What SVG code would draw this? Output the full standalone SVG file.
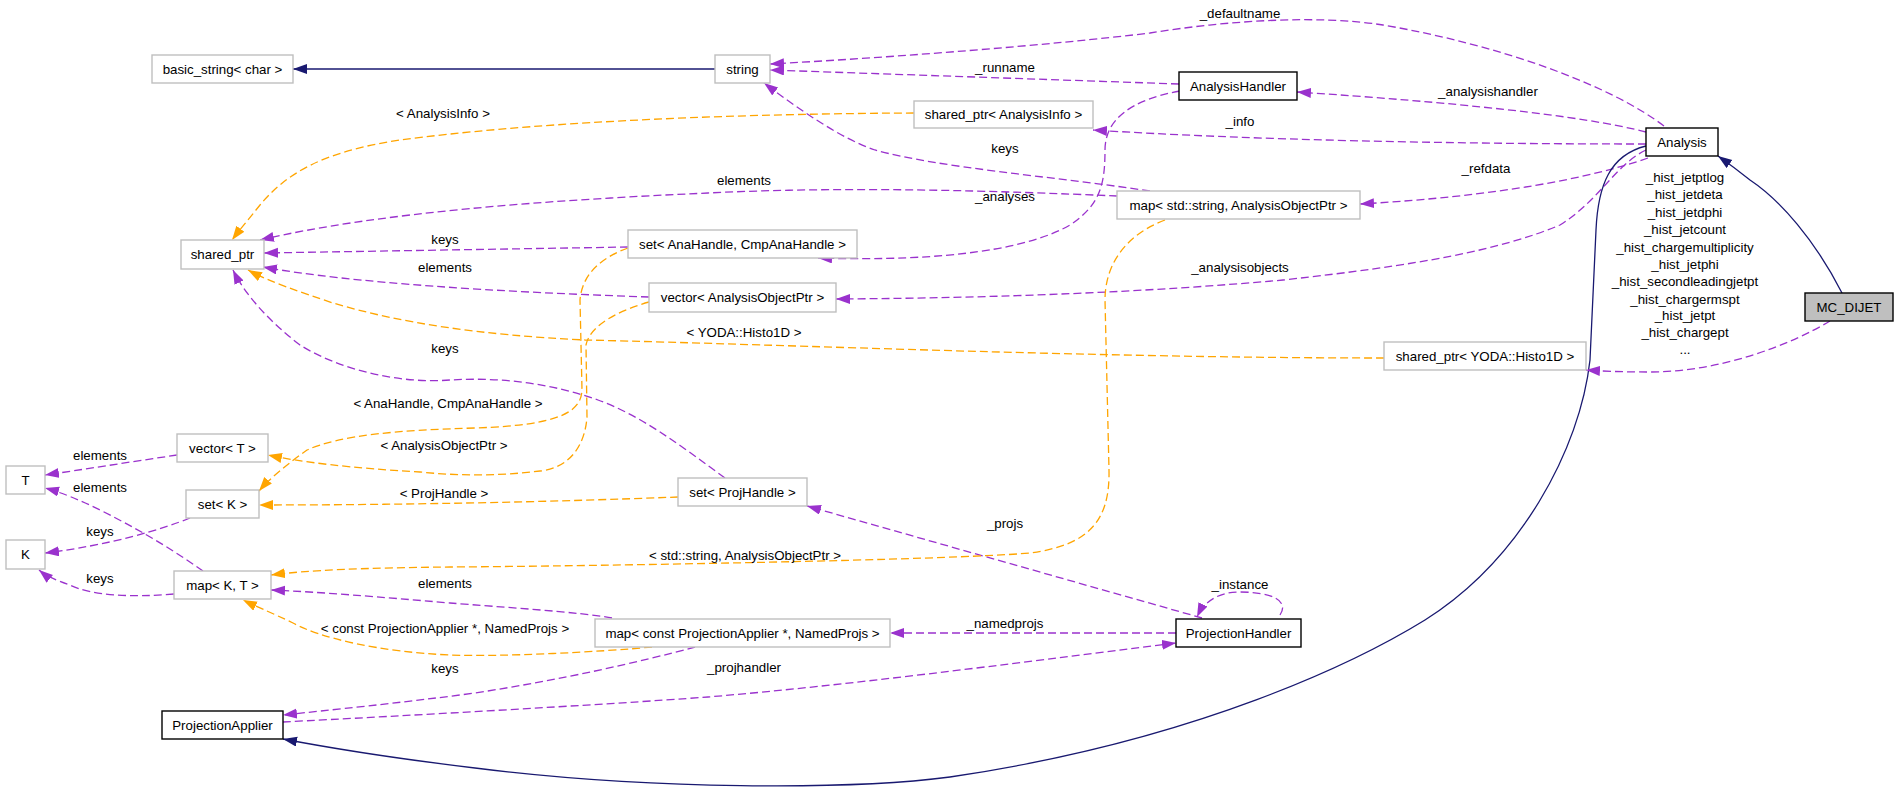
<svg xmlns="http://www.w3.org/2000/svg" width="1899" height="792" viewBox="0 0 1899 792">
<style>
text{font-family:"Liberation Sans",Arial,sans-serif;font-size:13.3px;fill:#000;text-anchor:middle}
.n{fill:#fff;stroke:#bfbfbf;stroke-width:1.4}
.d{fill:#fff;stroke:#000;stroke-width:1.4}
.g{fill:#bfbfbf;stroke:#000;stroke-width:1.4}
.u{fill:none;stroke:#9a32cd;stroke-width:1.3;stroke-dasharray:8,4}
.t{fill:none;stroke:#ffa500;stroke-width:1.3;stroke-dasharray:8,4}
.i{fill:none;stroke:#191970;stroke-width:1.3}
</style>
<defs>
<marker id="ap" markerWidth="15" markerHeight="11" refX="14" refY="5" orient="auto" markerUnits="userSpaceOnUse"><path d="M0,0 L14,5 L0,10 z" fill="#9a32cd"/></marker>
<marker id="ao" markerWidth="15" markerHeight="11" refX="14" refY="5" orient="auto" markerUnits="userSpaceOnUse"><path d="M0,0 L14,5 L0,10 z" fill="#ffa500"/></marker>
<marker id="an" markerWidth="15" markerHeight="11" refX="14" refY="5" orient="auto" markerUnits="userSpaceOnUse"><path d="M0,0 L14,5 L0,10 z" fill="#191970"/></marker>
</defs>
<rect width="1899" height="792" fill="#fff"/>
<g id="connectors">
<path class="i" marker-end="url(#an)" d="M715,69 L293,69"/>
<path class="u" marker-end="url(#ap)" d="M1664,126 C1610,85 1500,45 1383,25 C1320,15 1230,20 1150,33 C1050,45 900,57 770,64"/>
<text x="1240" y="18">_defaultname</text>
<path class="u" marker-end="url(#ap)" d="M1179,84 L770,70"/>
<text x="1005" y="72">_runname</text>
<path class="u" marker-end="url(#ap)" d="M1180,91 C1130,100 1105,120 1105,150 C1105,185 1100,205 1070,225 C1030,248 950,262 818,258"/>
<text x="1005" y="201">_analyses</text>
<path class="u" marker-end="url(#ap)" d="M1646,132 C1580,115 1450,102 1297,92"/>
<text x="1488" y="96">_analysishandler</text>
<path class="u" marker-end="url(#ap)" d="M1646,144 C1450,144 1250,140 1093,130"/>
<text x="1240" y="126">_info</text>
<path class="u" marker-end="url(#ap)" d="M1648,158 C1590,178 1500,196 1360,204"/>
<text x="1486" y="173">_refdata</text>
<path class="u" marker-end="url(#ap)" d="M1646,150 C1615,165 1600,200 1560,225 C1500,250 1420,265 1283,280 C1150,292 1000,298 836,299"/>
<text x="1240" y="272">_analysisobjects</text>
<path class="u" marker-end="url(#ap)" d="M1150,191 C1050,176 940,168 875,150 C840,138 800,110 764,83"/>
<text x="1005" y="153">keys</text>
<path class="t" marker-end="url(#ao)" d="M914,113 C700,114 520,124 400,140 C320,152 285,175 260,205 C248,220 238,232 232,240"/>
<text x="443" y="118">&lt; AnalysisInfo &gt;</text>
<path class="u" marker-end="url(#ap)" d="M1117,196 C1000,191 850,186 708,193 C550,200 380,212 260,240"/>
<text x="744" y="185">elements</text>
<path class="u" marker-end="url(#ap)" d="M628,247 L264,253"/>
<text x="445" y="244">keys</text>
<path class="u" marker-end="url(#ap)" d="M649,297 C500,292 350,283 263,267"/>
<text x="445" y="272">elements</text>
<path class="t" marker-end="url(#ao)" d="M1384,358 C1100,358 800,345 585,340 C480,335 400,323 333,303 C300,292 270,282 248,270"/>
<text x="744" y="337">&lt; YODA::Histo1D &gt;</text>
<path class="u" marker-end="url(#ap)" d="M725,478 C680,445 640,415 598,400 C550,383 500,377 450,380 C400,384 340,370 300,345 C270,322 245,295 233,270"/>
<text x="445" y="353">keys</text>
<path class="t" marker-end="url(#ao)" d="M628,248 C600,258 582,275 580,300 L582,390 C581,410 565,425 475,428 C400,430 340,435 307,450 C290,462 270,478 259,491"/>
<text x="448" y="408">&lt; AnaHandle, CmpAnaHandle &gt;</text>
<path class="t" marker-end="url(#ao)" d="M649,302 C620,310 590,325 586,345 L587,417 C585,445 570,468 540,471 C500,476 460,476 420,472 C350,468 300,462 268,455"/>
<text x="444" y="450">&lt; AnalysisObjectPtr &gt;</text>
<path class="t" marker-end="url(#ao)" d="M678,497 C550,502 400,505 259,505"/>
<text x="444" y="498">&lt; ProjHandle &gt;</text>
<path class="u" marker-end="url(#ap)" d="M1202,618 L807,506"/>
<text x="1005" y="528">_projs</text>
<path class="t" marker-end="url(#ao)" d="M1165,220 C1125,235 1105,265 1105,300 L1109,470 C1110,520 1090,545 1030,553 C950,560 600,566 450,567 C360,568 310,570 271,575"/>
<text x="745" y="560">&lt; std::string, AnalysisObjectPtr &gt;</text>
<path class="u" marker-end="url(#ap)" d="M1280,615 C1290,600 1270,592 1240,592 C1220,592 1205,600 1197,617"/>
<text x="1240" y="589">_instance</text>
<path class="u" marker-end="url(#ap)" d="M1176,633 L890,633"/>
<text x="1005" y="628">_namedprojs</text>
<path class="u" marker-end="url(#ap)" d="M283,722 C400,716 600,705 708,697 C850,685 1000,665 1176,643"/>
<text x="744" y="672">_projhandler</text>
<path class="u" marker-end="url(#ap)" d="M695,647 C640,662 560,680 475,693 C400,703 330,710 283,715"/>
<text x="445" y="673">keys</text>
<path class="t" marker-end="url(#ao)" d="M652,647 C600,652 500,657 450,655 C380,652 320,638 293,623 C270,612 255,606 243,600"/>
<text x="445" y="633">&lt; const ProjectionApplier *, NamedProjs &gt;</text>
<path class="u" marker-end="url(#ap)" d="M612,618 C580,612 500,607 450,603 C380,597 320,592 271,590"/>
<text x="445" y="588">elements</text>
<path class="u" marker-end="url(#ap)" d="M203,571 C180,555 150,535 100,510 C80,500 60,492 45,488"/>
<text x="100" y="492">elements</text>
<path class="u" marker-end="url(#ap)" d="M174,594 C130,598 90,595 70,585 C55,580 45,575 39,570"/>
<text x="100" y="583">keys</text>
<path class="u" marker-end="url(#ap)" d="M190,518 C160,530 110,545 45,553"/>
<text x="100" y="536">keys</text>
<path class="u" marker-end="url(#ap)" d="M177,455 C130,462 80,470 45,475"/>
<text x="100" y="460">elements</text>
<path class="i" marker-end="url(#an)" d="M1646,146 C1610,155 1598,185 1596,230 L1590,360 C1580,450 1520,560 1425,620 C1360,660 1200,740 950,777 C850,790 650,790 475,768 C400,759 330,748 283,739"/>
<path class="i" marker-end="url(#an)" d="M1842,293 C1815,240 1780,200 1750,180 C1740,172 1728,163 1718,156"/>
<path class="u" marker-end="url(#ap)" d="M1830,321 C1790,345 1720,372 1650,372 C1620,372 1600,371 1586,370"/>
<text x="1685" y="182">_hist_jetptlog</text>
<text x="1685" y="199">_hist_jetdeta</text>
<text x="1685" y="217">_hist_jetdphi</text>
<text x="1685" y="234">_hist_jetcount</text>
<text x="1685" y="252">_hist_chargemultiplicity</text>
<text x="1685" y="269">_hist_jetphi</text>
<text x="1685" y="286">_hist_secondleadingjetpt</text>
<text x="1685" y="304">_hist_chargermspt</text>
<text x="1685" y="320">_hist_jetpt</text>
<text x="1685" y="337">_hist_chargept</text>
<text x="1685" y="354">...</text>
</g>
<g id="node-basic_string"><rect class="n" x="152" y="55" width="141" height="28"/><text x="222.5" y="74">basic_string&lt; char &gt;</text></g>
<g id="node-string"><rect class="n" x="715" y="55" width="55" height="28"/><text x="742.5" y="74">string</text></g>
<g id="node-AnalysisHandler"><rect class="d" x="1179" y="72" width="118" height="28"/><text x="1238" y="91">AnalysisHandler</text></g>
<g id="node-shared_ptr_AnalysisInfo"><rect class="n" x="914" y="101" width="179" height="27"/><text x="1003.5" y="119">shared_ptr&lt; AnalysisInfo &gt;</text></g>
<g id="node-Analysis"><rect class="d" x="1646" y="128" width="72" height="28"/><text x="1682" y="147">Analysis</text></g>
<g id="node-MC_DIJET"><rect class="g" x="1805" y="293" width="88" height="28"/><text x="1849" y="312">MC_DIJET</text></g>
<g id="node-shared_ptr"><rect class="n" x="181" y="240" width="83" height="29"/><text x="222.5" y="259">shared_ptr</text></g>
<g id="node-map_string_AOP"><rect class="n" x="1117" y="191" width="243" height="28"/><text x="1238.5" y="210">map&lt; std::string, AnalysisObjectPtr &gt;</text></g>
<g id="node-set_AnaHandle"><rect class="n" x="628" y="230" width="229" height="28"/><text x="742.5" y="249">set&lt; AnaHandle, CmpAnaHandle &gt;</text></g>
<g id="node-vector_AOP"><rect class="n" x="649" y="283" width="187" height="29"/><text x="742.5" y="302">vector&lt; AnalysisObjectPtr &gt;</text></g>
<g id="node-shared_ptr_Histo1D"><rect class="n" x="1384" y="342" width="202" height="28"/><text x="1485" y="361">shared_ptr&lt; YODA::Histo1D &gt;</text></g>
<g id="node-vector_T"><rect class="n" x="177" y="434" width="91" height="28"/><text x="222.5" y="453">vector&lt; T &gt;</text></g>
<g id="node-T"><rect class="n" x="6" y="466" width="39" height="28"/><text x="25.5" y="485">T</text></g>
<g id="node-set_K"><rect class="n" x="186" y="490" width="73" height="28"/><text x="222.5" y="509">set&lt; K &gt;</text></g>
<g id="node-set_ProjHandle"><rect class="n" x="678" y="478" width="129" height="28"/><text x="742.5" y="497">set&lt; ProjHandle &gt;</text></g>
<g id="node-K"><rect class="n" x="6" y="540" width="39" height="29"/><text x="25.5" y="559">K</text></g>
<g id="node-map_K_T"><rect class="n" x="174" y="571" width="97" height="28"/><text x="222.5" y="590">map&lt; K, T &gt;</text></g>
<g id="node-map_PA_NamedProjs"><rect class="n" x="595" y="619" width="295" height="28"/><text x="742.5" y="638">map&lt; const ProjectionApplier *, NamedProjs &gt;</text></g>
<g id="node-ProjectionHandler"><rect class="d" x="1176" y="619" width="125" height="28"/><text x="1238.5" y="638">ProjectionHandler</text></g>
<g id="node-ProjectionApplier"><rect class="d" x="162" y="711" width="121" height="28"/><text x="222.5" y="730">ProjectionApplier</text></g>
</svg>
